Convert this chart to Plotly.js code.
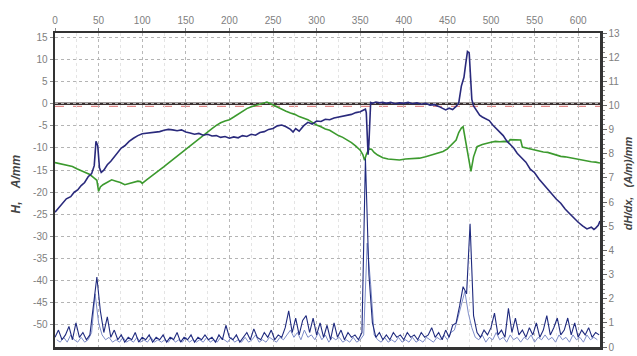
<!DOCTYPE html>
<html>
<head>
<meta charset="utf-8">
<script src="https://cdn.plot.ly/plotly-3.0.1.min.js"></script>
<style>html,body{margin:0;padding:0;background:#fff;}#chart{width:637px;height:356px;}</style>
</head>
<body>
<div id="chart"></div>
<script>
// Field strength H (A/mm) along distance x (mm), dark navy curve
const hX = [0,4,8,13,18,22,26,30,34,38,42,45,47,49,51,53,56,60,64,68,72,76,80,85,90,95,100,105,110,115,120,125,130,135,140,145,150,155,160,165,170,175,180,185,190,195,200,205,210,215,220,225,230,235,240,245,250,255,260,265,270,273,276,280,285,290,295,300,305,310,315,320,325,330,335,340,345,350,354,356,357,358,359,360,361,362,364,368,372,376,380,385,390,395,400,405,410,415,420,425,430,435,440,445,448,452,456,460,463,466,469,471,473,475,477,478,480,484,487,490,494,498,502,506,510,514,518,522,526,530,535,540,545,550,555,560,565,570,575,580,585,590,595,600,605,610,615,618,620,623,625];
const hY = [-24.5,-23.5,-22.5,-21.5,-21,-20,-19.5,-18.5,-17.8,-16.5,-15.8,-14,-8.5,-9.5,-14.5,-15.5,-15,-13.8,-13,-12,-11,-10,-9.5,-8.5,-7.8,-7.2,-6.8,-6.7,-6.5,-6.4,-6.3,-6.0,-5.8,-5.9,-6.1,-5.9,-6.4,-6.6,-6.9,-6.7,-7.1,-6.9,-7.3,-7.2,-7.6,-7.4,-7.8,-7.5,-7.7,-7.2,-7.4,-6.9,-7.1,-6.5,-6.3,-5.8,-5.6,-5.0,-4.8,-5.2,-5.8,-6.4,-5.6,-6.2,-5.0,-4.2,-4.6,-3.9,-4.0,-3.5,-3.6,-3.2,-3.0,-2.8,-2.6,-2.4,-2.0,-1.8,-1.4,-1.2,-2,-8,-11.5,-9,-3,0.3,0.1,0.4,0.2,0.3,0.1,0.3,0.0,0.2,0.1,0.3,0.0,0.2,-0.1,0.1,-0.3,-0.2,-0.6,-1.0,-1.4,-1.0,-1.3,-0.6,0.2,4,6,9,11.8,11.5,6,1,-0.5,-1.8,-2.6,-3.0,-3.4,-3.8,-4.8,-5.6,-6.5,-7.2,-8.4,-9.2,-10.0,-11.2,-12.3,-13.2,-14.8,-15.6,-17.0,-18.2,-19.3,-20.4,-21.6,-22.5,-23.8,-24.8,-25.9,-26.8,-27.6,-28.3,-27.9,-28.4,-28.1,-27.5,-26.5];

// Second field curve (green)
const gX = [0,5,10,15,20,25,30,35,40,45,48,50,52,55,60,65,70,75,80,85,90,95,98,100,105,110,115,120,125,130,135,140,145,150,155,160,165,170,175,180,185,190,195,200,205,210,215,220,225,230,235,240,243,246,250,255,260,265,270,275,280,285,290,295,300,305,310,315,320,325,330,335,340,345,350,353,355,357,360,363,366,370,376,382,388,395,402,410,418,425,432,438,445,450,455,460,463,466,468,471,474,477,480,484,490,495,500,505,510,515,520,522,526,530,534,536,540,545,550,555,560,565,570,575,580,585,590,595,600,605,610,615,620,625];
const gY = [-13.3,-13.5,-13.7,-14,-14.2,-14.7,-15.1,-15.5,-16,-16.8,-17.3,-19.8,-18.8,-18.3,-17.8,-17.2,-17.5,-17.8,-18.3,-18,-17.8,-17.5,-17.6,-18,-17.2,-16.5,-15.6,-15,-14.2,-13.4,-12.6,-11.8,-11.2,-10.4,-9.5,-8.6,-7.8,-7.0,-6.4,-5.6,-4.9,-4.3,-3.9,-3.6,-3.0,-2.4,-1.8,-1.1,-0.7,-0.4,-0.1,0.2,0.4,0.1,-0.3,-0.8,-1.3,-1.7,-2.1,-2.4,-2.9,-3.2,-3.6,-4.2,-4.8,-5.2,-5.7,-6.0,-6.6,-7.2,-7.6,-8.2,-8.8,-9.6,-10.5,-11.5,-12.8,-11.5,-10.2,-10.3,-11,-11.6,-12.2,-12.5,-12.6,-12.7,-12.5,-12.4,-12.3,-12.0,-11.6,-11.3,-10.8,-10.2,-9.3,-8.2,-6.5,-5.5,-5.2,-8.5,-12.5,-15.3,-12,-9.7,-9.2,-8.9,-8.7,-8.5,-8.6,-8.5,-8.6,-8.1,-8.1,-8.1,-8.2,-9.8,-10.0,-10.2,-10.4,-10.6,-10.9,-11.0,-11.3,-11.6,-11.9,-12.0,-12.2,-12.4,-12.6,-12.8,-12.9,-13.1,-13.2,-13.4];

// Gradient dH/dx ((A/m)/mm), sampled every 4 mm from 0 (navy)
const dStart1 = 0, dStep1 = 4;
const d1 = [
 0.4,0.7,0.3,0.5,0.85,0.3,1.0,0.4,0.6,0.3,
 0.5,1.6,2.9,1.5,0.6,1.25,0.4,0.7,0.3,0.5,
 0.2,0.4,0.3,0.6,0.2,0.4,0.3,0.5,0.2,0.4,
 0.3,0.5,0.2,0.4,0.3,0.6,0.2,0.4,0.3,0.5,
 0.2,0.4,0.3,0.5,0.3,0.4,0.2,0.5,0.3,0.9,
 0.4,0.3,0.5,0.2,0.4,0.6,0.3,0.75,0.4,0.3,
 0.6,0.4,0.7,0.3,0.5,0.4,0.8,1.5,0.6,1.2,
 0.5,1.1,1.3,0.6,1.2,0.5,1.0,0.4,0.9,0.3,
 1.0,0.4,0.7,0.3,0.6,0.4,0.5,0.3,0.6,7.8,
 3.0,1.0,0.4,0.6,0.3,0.5,0.3,0.6,0.4,0.5,
 0.3,0.6,0.4,0.5,0.3,0.6,0.4,0.5,0.8,0.4,
 0.6,0.3,0.7,0.4,0.9,1.0,1.7,2.5,2.2,5.1,
 1.3,0.6,0.4,0.7,0.5,0.8,1.4,0.5,0.7,0.4,
 1.6,0.6,1.2,0.5,0.7,0.4,0.8,0.5,1.0,0.4,
 0.7,1.3,0.5,0.8,1.2,0.5,0.7,1.2,0.5,1.0,
 0.4,0.7,0.5,0.8,0.4,0.6,0.5];

// Gradient of second curve, sampled every 4 mm from 2 (lighter blue)
const dStart2 = 2, dStep2 = 4;
const d2 = [
 0.3,0.2,0.4,0.2,0.5,0.3,0.2,0.4,0.2,0.3,
 0.6,2.2,1.0,0.5,0.3,0.4,0.2,0.3,0.2,0.4,
 0.2,0.3,0.2,0.4,0.2,0.3,0.2,0.4,0.2,0.3,
 0.2,0.3,0.2,0.4,0.2,0.3,0.2,0.4,0.2,0.3,
 0.2,0.3,0.2,0.4,0.2,0.3,0.2,0.4,0.3,0.2,
 0.4,0.2,0.3,0.2,0.4,0.2,0.3,0.5,0.2,0.3,
 0.2,0.4,0.3,0.2,0.4,0.3,0.5,0.7,0.4,0.6,
 0.3,0.7,0.4,0.5,0.3,0.6,0.3,0.5,0.2,0.4,
 0.3,0.4,0.2,0.3,0.2,0.4,0.2,0.3,0.5,4.3,
 2.6,0.5,0.3,0.2,0.4,0.2,0.3,0.2,0.4,0.2,
 0.3,0.2,0.4,0.2,0.3,0.2,0.4,0.3,0.2,0.4,
 0.3,0.5,0.3,0.6,0.7,1.2,1.8,2.3,1.4,0.8,
 0.4,0.3,0.5,0.2,0.4,0.3,0.6,0.3,0.4,0.2,
 0.5,0.3,0.4,0.2,0.4,0.3,0.5,0.2,0.4,0.3,
 0.5,0.3,0.4,0.2,0.5,0.3,0.4,0.2,0.5,0.3,
 0.4,0.2,0.5,0.3,0.4,0.3];

const xTicks = [0,50,100,150,200,250,300,350,400,450,500,550,600];
const leftTicks = [-50,-45,-40,-35,-30,-25,-20,-15,-10,-5,0,5,10,15];
const rightTicks = [0,1,2,3,4,5,6,7,8,9,10,11,12,13];
const leftTitle = "H,&nbsp;&nbsp;&nbsp;&nbsp;A/mm";
const rightTitle = "dH/dx,&nbsp;&nbsp;&nbsp;(A/m)/mm";

const d1x = d1.map((_, i) => dStart1 + i * dStep1);
const d2x = d2.map((_, i) => dStart2 + i * dStep2);

const traces = [
  {x: d2x, y: d2, yaxis: 'y2', type: 'scatter', mode: 'lines', line: {color: '#7d8cc8', width: 1}, hoverinfo: 'skip'},
  {x: d1x, y: d1, yaxis: 'y2', type: 'scatter', mode: 'lines', line: {color: '#1f2a7e', width: 1.1}, hoverinfo: 'skip'},
  {x: gX, y: gY, type: 'scatter', mode: 'lines', line: {color: '#3c9a2e', width: 1.6}},
  {x: hX, y: hY, type: 'scatter', mode: 'lines', line: {color: '#2a2a7c', width: 1.6}}
];

const tickFont = {family: 'Liberation Sans, Arial, sans-serif', size: 10, color: '#808080'};
const layout = {
  width: 637, height: 356,
  margin: {l: 55, r: 37, t: 33, b: 9, pad: 0},
  paper_bgcolor: '#ffffff', plot_bgcolor: '#ffffff',
  showlegend: false,
  xaxis: {
    range: [0, 625], side: 'top', tickvals: xTicks, ticktext: xTicks.map(String),
    ticks: 'outside', ticklen: 3, tickcolor: '#888', tickfont: tickFont,
    showgrid: true, gridcolor: '#b8b8b8', griddash: 'dot', gridwidth: 1,
    minor: {dtick: 25, showgrid: true, gridcolor: '#e4e4e4', griddash: 'dot'},
    showline: true, linecolor: '#333', linewidth: 2.5, mirror: true, zeroline: false
  },
  yaxis: {
    range: [-55, 16], tickvals: leftTicks, ticktext: leftTicks.map(String),
    ticks: 'outside', ticklen: 3, tickcolor: '#888', tickfont: tickFont,
    showgrid: true, gridcolor: '#b4b4b4', griddash: 'dot', gridwidth: 1,
    showline: true, linecolor: '#333', linewidth: 2.5, zeroline: false
  },
  yaxis2: {
    range: [0, 13], overlaying: 'y', side: 'right', tickvals: rightTicks, ticktext: rightTicks.map(String),
    ticks: 'outside', ticklen: 4, tickcolor: '#666', tickfont: tickFont,
    minor: {dtick: 0.2, ticks: 'outside', ticklen: 2, tickcolor: '#888'},
    showgrid: false, showline: true, linecolor: '#333', linewidth: 2.5, zeroline: false
  },
  shapes: [
    {type: 'line', xref: 'paper', x0: 0, x1: 1, yref: 'y', y0: -0.6, y1: -0.6, layer: 'below', line: {color: '#e08a8a', width: 1.2, dash: 'dash'}},
    {type: 'line', xref: 'paper', x0: 0, x1: 1, yref: 'y', y0: 0, y1: 0, layer: 'below', line: {color: '#3a3030', width: 2.5}}
  ],
  annotations: [
    {text: '<b><i>' + leftTitle + '</i></b>', xref: 'paper', yref: 'paper', x: -0.072, y: 0.52, xanchor: 'center', yanchor: 'middle', textangle: -90, showarrow: false, font: {family: 'Liberation Sans, Arial, sans-serif', size: 12, color: '#444'}},
    {text: '<b><i>' + rightTitle + '</i></b>', xref: 'paper', yref: 'paper', x: 1.0505, y: 0.52, xanchor: 'center', yanchor: 'middle', textangle: -90, showarrow: false, font: {family: 'Liberation Sans, Arial, sans-serif', size: 11, color: '#444'}}
  ]
};

Plotly.newPlot('chart', traces, layout, {displayModeBar: false, staticPlot: true});
</script>
</body>
</html>
